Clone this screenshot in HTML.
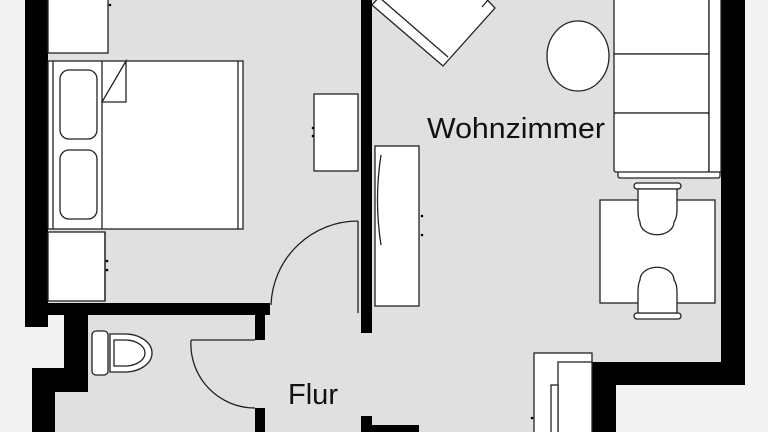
<!DOCTYPE html>
<html><head><meta charset="utf-8"><style>
html,body{margin:0;padding:0;background:#f3f3f3;}
svg{display:block}
text{font-family:"Liberation Sans",sans-serif;}
</style></head><body>
<svg width="768" height="432" viewBox="0 0 768 432" xmlns="http://www.w3.org/2000/svg">
<rect width="768" height="432" fill="#f3f3f3"/>
<path d="M48 0 H721 V362 H592 V432 H55 V392 H88 V313 H48 Z" fill="#e0e0e0"/>
<g fill="#000">
<rect x="25" y="0" width="23" height="327"/>
<rect x="25" y="303" width="245" height="12"/>
<rect x="64" y="303" width="24" height="89"/>
<rect x="32" y="368" width="56" height="24"/>
<rect x="32" y="368" width="23" height="64"/>
<rect x="255" y="303" width="10" height="37"/>
<rect x="255" y="408" width="10" height="24"/>
<rect x="361" y="0" width="11" height="333"/>
<rect x="361" y="416" width="11" height="16"/>
<rect x="372" y="425" width="47" height="7"/>
<rect x="721" y="0" width="24" height="385"/>
<rect x="592" y="362" width="153" height="23"/>
<rect x="592" y="362" width="24" height="70"/>
</g>
<g fill="#fff" stroke="#222" stroke-width="1.3">
<rect x="48" y="-2" width="60" height="55"/>
<rect x="48" y="61" width="195" height="168"/>
<line x1="102" y1="61" x2="102" y2="229"/>
<line x1="53" y1="61" x2="53" y2="229"/>
<line x1="238" y1="61" x2="238" y2="229"/>
<rect x="60" y="70" width="37" height="69" rx="9"/>
<rect x="60" y="150" width="37" height="69" rx="9"/>
<polygon points="102,102 126,61 126,102"/>
<rect x="48" y="232" width="57" height="69"/>
<line x1="105" y1="232" x2="105" y2="301"/>
<rect x="314" y="94" width="44" height="77"/>
<rect x="92" y="331" width="16" height="44" rx="4"/>
<path d="M110 334 H125 A27 19 0 0 1 125 372 H110 Z"/>
<path d="M114 340 H125 A20 13 0 0 1 125 366 H114 Z"/>
<rect x="375" y="146" width="44" height="160"/>
<path d="M381 155 Q374 200 381 245" fill="none"/>
<polygon points="372,5 443,66 495,8 430,-60"/>
<line x1="380" y1="-2" x2="448" y2="57"/>
<line x1="488" y1="0" x2="482" y2="7"/>
<ellipse cx="578" cy="56" rx="31" ry="35"/>
<rect x="618" y="170" width="102" height="8" rx="2"/>
<rect x="614" y="-2" width="95" height="56"/>
<rect x="614" y="54" width="95" height="59"/>
<rect x="614" y="113" width="95" height="59" rx="2"/>
<rect x="709" y="-2" width="12" height="174"/>
<rect x="600" y="200" width="115" height="103"/>
<rect x="634" y="183" width="47" height="6" rx="3"/>
<path d="M638 189 H677 V210 Q677 218 674 222 A16 12 0 0 1 640 222 Q638 218 638 210 Z"/>
<rect x="634" y="313" width="47" height="6" rx="3"/>
<path d="M638 313 H677 V292 Q677 284 674 280 A16 12 0 0 0 640 280 Q638 284 638 292 Z"/>
<rect x="534" y="353" width="58" height="82"/>
<rect x="558" y="362" width="34" height="73"/>
<rect x="551" y="385" width="7" height="50"/>
</g>
<g fill="#000"><circle cx="313" cy="128" r="1.3"/><circle cx="313" cy="136" r="1.3"/><circle cx="107" cy="261" r="1.3"/><circle cx="107" cy="270" r="1.3"/><circle cx="422" cy="216" r="1.3"/><circle cx="422" cy="235" r="1.3"/><circle cx="532" cy="418" r="1.3"/><circle cx="110" cy="5" r="1.3"/></g>
<g fill="none" stroke="#222" stroke-width="1.3">
<path d="M358 221 A87 87 0 0 0 271 305"/>
<line x1="358" y1="221" x2="358" y2="313"/>
<path d="M191 340 A64 64 0 0 0 255 408"/>
<line x1="191" y1="340" x2="255" y2="340"/>
</g>
<text x="288" y="404" font-size="29" fill="#111" textLength="50" lengthAdjust="spacingAndGlyphs">Flur</text>
<text x="427" y="138" font-size="29" fill="#111" textLength="178" lengthAdjust="spacingAndGlyphs">Wohnzimmer</text>
</svg>
</body></html>
